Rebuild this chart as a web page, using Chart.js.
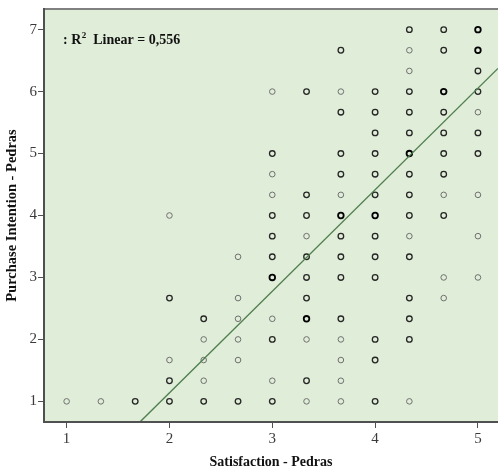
<!DOCTYPE html>
<html>
<head>
<meta charset="utf-8">
<script src="https://cdn.jsdelivr.net/npm/chart.js@4.4.1/dist/chart.umd.min.js"></script>
<style>
    body { margin: 0; background: #fff; overflow: hidden; }
    #wrap { width: 498px; height: 471px; }
    canvas { display: block; }
</style>
</head>
<body>
<div id="wrap"><canvas id="scatter" width="498" height="471"></canvas></div>
<script>
// Satisfaction (x) vs Purchase Intention (y), scale means on thirds.
// overlap: 1 = one case, 2 = a few cases, 3 = many cases on the same spot
const satisfaction = [
    1, 1.333, 1.667,
    2, 2, 2, 2, 2,
    2.333, 2.333, 2.333, 2.333, 2.333,
    2.667, 2.667, 2.667, 2.667, 2.667, 2.667,
    3, 3, 3, 3, 3, 3, 3, 3, 3, 3, 3, 3,
    3.333, 3.333, 3.333, 3.333, 3.333, 3.333, 3.333, 3.333, 3.333, 3.333, 3.333,
    3.667, 3.667, 3.667, 3.667, 3.667, 3.667, 3.667, 3.667, 3.667, 3.667, 3.667, 3.667, 3.667, 3.667, 3.667,
    4, 4, 4, 4, 4, 4, 4, 4, 4, 4, 4, 4, 4,
    4.333, 4.333, 4.333, 4.333, 4.333, 4.333, 4.333, 4.333, 4.333, 4.333, 4.333, 4.333, 4.333, 4.333, 4.333, 4.333,
    4.667, 4.667, 4.667, 4.667, 4.667, 4.667, 4.667, 4.667, 4.667, 4.667, 4.667,
    5, 5, 5, 5, 5, 5, 5, 5, 5, 5
];
const intention = [
    1, 1, 1,
    4, 2.667, 1.667, 1.333, 1,
    2.333, 2, 1.667, 1.333, 1,
    3.333, 2.667, 2.333, 2, 1.667, 1,
    6, 5, 4.667, 4.333, 4, 3.667, 3.333, 3, 2.333, 2, 1.333, 1,
    6, 4.333, 4, 3.667, 3.333, 3, 2.667, 2.333, 2, 1.333, 1,
    6.667, 6, 5.667, 5, 4.667, 4.333, 4, 3.667, 3.333, 3, 2.333, 2, 1.667, 1.333, 1,
    6, 5.667, 5.333, 5, 4.667, 4.333, 4, 3.667, 3.333, 3, 2, 1.667, 1,
    7, 6.667, 6.333, 6, 5.667, 5.333, 5, 4.667, 4.333, 4, 3.667, 3.333, 2.667, 2.333, 2, 1,
    7, 6.667, 6, 5.667, 5.333, 5, 4.667, 4.333, 4, 3, 2.667,
    7, 6.667, 6.333, 6, 5.667, 5.333, 5, 4.333, 3.667, 3
];
const overlap = [
    1, 1, 2,
    1, 2, 1, 2, 2,
    2, 1, 1, 1, 2,
    1, 1, 1, 1, 1, 2,
    1, 2, 1, 1, 2, 2, 2, 3, 1, 2, 1, 2,
    2, 2, 2, 1, 2, 2, 2, 3, 1, 2, 1,
    2, 1, 2, 2, 2, 1, 3, 2, 2, 2, 2, 1, 1, 1, 1,
    2, 2, 2, 2, 2, 2, 3, 2, 2, 2, 2, 2, 2,
    2, 1, 1, 2, 2, 2, 3, 2, 2, 2, 1, 2, 2, 2, 2, 1,
    2, 2, 3, 2, 2, 2, 2, 1, 2, 1, 1,
    3, 3, 2, 2, 1, 2, 2, 1, 1, 1
];

const xTicks = [1, 2, 3, 4, 5];
const yTicks = [1, 2, 3, 4, 5, 6, 7];

// linear fit
const fitIntercept = -2.14;
const fitSlope = 1.639;
const rSquared = '0,556';

const xMin = 0.78, xMax = 5.195;
const yMin = 0.667, yMax = 7.333;

const serif = '"Liberation Serif", "Times New Roman", serif';
const ringColor = ['', '#707070', '#262626', '#000000'];
const ringWidth = [0, 1, 1.3, 1.8];

const points = satisfaction.map((x, i) => ({ x: x, y: intention[i], n: overlap[i] }));
const fitLine = [xMin, xMax].map(x => ({ x: x, y: fitIntercept + fitSlope * x }));

// green plot background, axis frame and the fit note
const plotFrame = {
    id: 'plotFrame',
    beforeDraw(chart) {
        const { ctx, chartArea: a } = chart;
        ctx.save();
        ctx.fillStyle = '#e0edd8';
        ctx.fillRect(a.left, a.top, a.right - a.left, a.bottom - a.top);
        ctx.restore();
    },
    afterDraw(chart) {
        const { ctx, chartArea: a } = chart;
        ctx.save();
        ctx.lineWidth = 2;
        ctx.strokeStyle = '#808080';
        ctx.beginPath();
        ctx.moveTo(a.left, a.top);
        ctx.lineTo(a.right, a.top);
        ctx.stroke();
        ctx.strokeStyle = '#505050';
        ctx.beginPath();
        ctx.moveTo(a.left, a.top - 1);
        ctx.lineTo(a.left, a.bottom);
        ctx.lineTo(a.right, a.bottom);
        ctx.stroke();

        ctx.fillStyle = '#111';
        ctx.textBaseline = 'alphabetic';
        ctx.font = 'bold 14px ' + serif;
        let x = a.left + 19;
        const base = a.top + 34.5;
        ctx.fillText(': R', x, base);
        x += ctx.measureText(': R').width;
        ctx.font = 'bold 9px ' + serif;
        ctx.fillText('2', x + 0.5, base - 5.5);
        x += ctx.measureText('2').width + 7.5;
        ctx.font = 'bold 14px ' + serif;
        ctx.fillText('Linear = ' + rSquared, x, base);
        ctx.restore();
    }
};

new Chart(document.getElementById('scatter'), {
    type: 'scatter',
    data: {
        datasets: [
            {
                type: 'line',
                data: fitLine,
                borderColor: '#4f7e4f',
                borderWidth: 1.4,
                pointRadius: 0,
                fill: false,
                order: 0
            },
            {
                data: points,
                pointStyle: 'circle',
                pointRadius: 2.8,
                backgroundColor: 'rgba(0,0,0,0)',
                borderColor: ctx => ringColor[ctx.raw.n],
                borderWidth: ctx => ringWidth[ctx.raw.n],
                order: 1
            }
        ]
    },
    options: {
        responsive: false,
        animation: false,
        events: [],
        layout: { autoPadding: false, padding: { top: 9, right: 0, left: 0, bottom: 0 } },
        plugins: { legend: { display: false }, tooltip: { enabled: false } },
        scales: {
            x: {
                type: 'linear',
                min: xMin,
                max: xMax,
                afterBuildTicks: s => { s.ticks = xTicks.map(v => ({ value: v })); },
                afterFit: s => { s.height = 49; s.paddingLeft = 0; s.paddingRight = 0; },
                border: { display: false },
                grid: { drawOnChartArea: false, tickLength: 6, color: '#505050', tickWidth: 1 },
                ticks: { color: '#3a3a3a', padding: 2, font: { family: serif, size: 15 } },
                title: {
                    display: true,
                    text: 'Satisfaction - Pedras',
                    color: '#111',
                    padding: { top: 0, bottom: 0 },
                    font: { family: serif, size: 14, weight: 'bold' }
                }
            },
            y: {
                type: 'linear',
                min: yMin,
                max: yMax,
                afterBuildTicks: s => { s.ticks = yTicks.map(v => ({ value: v })); },
                afterFit: s => { s.width = 44; s.paddingTop = 0; s.paddingBottom = 0; },
                border: { display: false },
                grid: { drawOnChartArea: false, tickLength: 6, color: '#505050', tickWidth: 1 },
                ticks: { color: '#3a3a3a', padding: 1, font: { family: serif, size: 15 } },
                title: {
                    display: true,
                    text: 'Purchase Intention - Pedras',
                    color: '#111',
                    padding: { top: 4, bottom: 0 },
                    font: { family: serif, size: 14.5, weight: 'bold' }
                }
            }
        }
    },
    plugins: [plotFrame]
});
</script>
</body>
</html>
